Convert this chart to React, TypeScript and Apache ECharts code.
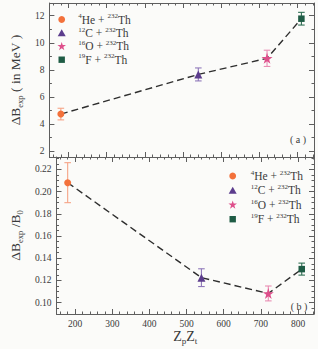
import React, { useEffect, useRef } from 'react';
import * as echarts from 'echarts';

// ---- data ----
const reactions = ['4He + 232Th', '12C + 232Th', '16O + 232Th', '19F + 232Th'];
const projMass = ['4', '12', '16', '19'];
const projSym = ['He', 'C', 'O', 'F'];
const targetMass = '232';
const targetSym = 'Th';
const zpzt = [180, 540, 720, 810];
const deltaB = [4.73, 7.66, 8.85, 11.78];
const deltaBErr = [0.43, 0.48, 0.6, 0.47];
const ratio = [0.208, 0.1225, 0.1083, 0.1302];
const ratioErr = [0.018, 0.008, 0.0067, 0.0054];
const xTicks = [200, 300, 400, 500, 600, 700, 800];
const topYTicks = [2, 4, 6, 8, 10, 12];
const topYMinor = [3, 5, 7, 9, 11];
const bottomYTicks = [0.1, 0.12, 0.14, 0.16, 0.18, 0.2, 0.22];

const X_MIN = 150;
const X_MAX = 843;
const TOP_Y = [1.557, 12.94];
const BOT_Y = [0.0898, 0.2311];

const xMinor: number[] = [];
for (let v = 160; v <= 840; v += 20) if (v % 100 !== 0) xMinor.push(v);
const bottomYMinor: number[] = [];
for (let k = 18; k <= 46; k++) if (k % 4 !== 0) bottomYMinor.push(+(k * 0.005).toFixed(3));

const STAR_PTS = [[50, 0], [61.2, 34.5], [97.6, 34.5], [68.2, 55.9], [79.4, 90.5], [50, 69.1], [20.6, 90.5], [31.8, 55.9], [2.4, 34.5], [38.8, 34.5]];
const STAR = 'path://M' + STAR_PTS.map((p) => p.join(',')).join(' L') + ' Z';
const colors = ['#f3713b', '#5c3d8d', '#de4f8b', '#1f5c45'];
const errColors = ['#f5a386', '#8f78ba', '#e98db3', '#2f6e53'];
const symbols = ['circle', 'triangle', STAR, 'rect'];
const symbolSizes = [7, 8, 11, 6.5];

const FONT = 'Liberation Serif';
const AXIS_COLOR = '#5e5e5e';
const TEXT_COLOR = '#3a3a3a';

function nameRich(size: number, subSize: number) {
  return {
    n: { fontFamily: FONT, fontSize: size, color: TEXT_COLOR, lineHeight: 18 },
    sub: { fontFamily: FONT, fontSize: subSize, color: TEXT_COLOR, verticalAlign: 'bottom', lineHeight: 9 },
  };
}

function xAxes(gridIndex: number, withLabels: boolean, name?: string) {
  const base = {
    type: 'value', gridIndex, min: X_MIN, max: X_MAX,
    splitLine: { show: false },
  };
  const line = { show: true, onZero: false, lineStyle: { color: AXIS_COLOR, width: 1 } };
  const tickStyle = { color: AXIS_COLOR, width: 1 };
  const mk = (pos: string, major: boolean, labels: boolean, nm?: string) => ({
    ...base,
    position: pos,
    axisLine: major ? line : { show: false, onZero: false },
    axisTick: { show: true, inside: true, length: major ? 5 : 2.5, customValues: major ? xTicks : xMinor, lineStyle: tickStyle },
    axisLabel: labels
      ? { show: true, customValues: xTicks, margin: 5, fontFamily: FONT, fontSize: 9.5, color: TEXT_COLOR }
      : { show: false },
    ...(nm
      ? { name: nm, nameLocation: 'middle', nameGap: 10, nameTextStyle: { rich: nameRich(14, 9) } }
      : {}),
  });
  return [
    mk('bottom', true, withLabels, name),
    mk('bottom', false, false),
    mk('top', true, false),
    mk('top', false, false),
  ];
}

function yAxes(gridIndex: number, range: number[], major: number[], minor: number[], fmt: (v: number) => string, name: string, gap: number) {
  const base = { type: 'value', gridIndex, min: range[0], max: range[1], splitLine: { show: false } };
  const line = { show: true, onZero: false, lineStyle: { color: AXIS_COLOR, width: 1 } };
  const tickStyle = { color: AXIS_COLOR, width: 1 };
  const mk = (pos: string, isMajor: boolean, labels: boolean, nm?: string) => ({
    ...base,
    position: pos,
    axisLine: isMajor ? line : { show: false, onZero: false },
    axisTick: { show: true, inside: true, length: isMajor ? 5 : 2.5, customValues: isMajor ? major : minor, lineStyle: tickStyle },
    axisLabel: labels
      ? { show: true, customValues: major, margin: 5, fontFamily: FONT, fontSize: 9.5, color: TEXT_COLOR, formatter: fmt }
      : { show: false },
    ...(nm
      ? { name: nm, nameLocation: 'middle', nameGap: gap, nameRotate: 90, nameTextStyle: { rich: nameRich(13.5, 8.5) } }
      : {}),
  });
  return [mk('left', true, true, name), mk('left', false, false), mk('right', true, false), mk('right', false, false)];
}

// legend drawn as graphic elements (marker + rich label)
function legendMarker(i: number, cx: number, cy: number) {
  const fill = colors[i];
  if (i === 0) return { type: 'circle', shape: { cx, cy, r: 3.4 }, style: { fill } };
  if (i === 1) return { type: 'polygon', shape: { points: [[cx - 4, cy + 3.4], [cx + 4, cy + 3.4], [cx, cy - 3.6]] }, style: { fill } };
  if (i === 2) {
    const s = 0.09;
    return { type: 'polygon', shape: { points: STAR_PTS.map((p) => [cx + (p[0] - 50) * s, cy + (p[1] - 48) * s]) }, style: { fill } };
  }
  return { type: 'rect', shape: { x: cx - 3.2, y: cy - 3.2, width: 6.4, height: 6.4 }, style: { fill } };
}

function legendGraphics(markerX: number, textX: number, y0: number, dy: number) {
  const out: any[] = [];
  reactions.forEach((r, i) => {
    const cy = y0 + i * dy;
    out.push(legendMarker(i, markerX, cy));
    out.push({
      type: 'text', x: textX, y: cy,
      style: {
        text: `{sup|${projMass[i]}}{n|${projSym[i]} + }{sup|${targetMass}}{n|${targetSym}}`,
        align: 'left', verticalAlign: 'middle',
        rich: {
          n: { fontFamily: FONT, fontSize: 11.5, fill: TEXT_COLOR, lineHeight: 13.5 },
          sup: { fontFamily: FONT, fontSize: 7, fill: TEXT_COLOR, verticalAlign: 'top', lineHeight: 3 },
        },
      },
    });
  });
  return out;
}

function panelSeries(xIdx: number, yIdx: number, vals: number[], errs: number[]) {
  const out: any[] = [];
  out.push({
    type: 'line', xAxisIndex: xIdx, yAxisIndex: yIdx, name: 'trend',
    data: zpzt.map((x, i) => [x, vals[i]]),
    showSymbol: false, symbol: 'none', silent: true, z: 2,
    lineStyle: { color: '#2e2e2e', width: 1.4, type: [7, 4] },
  });
  out.push({
    type: 'custom', xAxisIndex: xIdx, yAxisIndex: yIdx, name: 'err', silent: true, z: 3,
    data: zpzt.map((x, i) => [x, vals[i] - errs[i], vals[i] + errs[i]]),
    encode: { x: 0, y: [1, 2] },
    renderItem: (params: any, api: any) => {
      const x = api.value(0);
      const p1 = api.coord([x, api.value(1)]);
      const p2 = api.coord([x, api.value(2)]);
      const c = errColors[params.dataIndex];
      const w = 3.3;
      const st = { stroke: c, lineWidth: 1.1 };
      return {
        type: 'group',
        children: [
          { type: 'line', shape: { x1: p1[0], y1: p1[1], x2: p2[0], y2: p2[1] }, style: st },
          { type: 'line', shape: { x1: p1[0] - w, y1: p1[1], x2: p1[0] + w, y2: p1[1] }, style: st },
          { type: 'line', shape: { x1: p2[0] - w, y1: p2[1], x2: p2[0] + w, y2: p2[1] }, style: st },
        ],
      };
    },
  });
  reactions.forEach((r, i) => {
    out.push({
      type: 'scatter', xAxisIndex: xIdx, yAxisIndex: yIdx, name: r, z: 5,
      symbol: symbols[i], symbolSize: symbolSizes[i],
      itemStyle: { color: colors[i], opacity: 1 },
      data: [[zpzt[i], vals[i]]],
    });
  });
  return out;
}

export default function App() {
  const ref = useRef<HTMLDivElement>(null);
  useEffect(() => {
    if (!ref.current) return;
    const chart = echarts.init(ref.current, null, { renderer: 'svg' });
    const option: any = {
      animation: false,
      backgroundColor: '#fbfbf9',
      grid: [
        { left: 39, right: 4, top: 3, height: 154 },
        { left: 39, right: 4, top: 157, height: 157 },
      ],
      xAxis: [...xAxes(0, false), ...xAxes(1, true, '{n|Z}{sub|p}{n|Z}{sub|t}')],
      yAxis: [
        ...yAxes(0, TOP_Y, topYTicks, topYMinor, (v: number) => String(v), '{n|ΔB}{sub|exp}{n| ( in MeV )}', 20),
        ...yAxes(1, BOT_Y, bottomYTicks, bottomYMinor, (v: number) => v.toFixed(2), '{n|ΔB}{sub|exp}{n| /B}{sub|0}', 26),
      ],
      graphic: [
        ...legendGraphics(61.7, 78.3, 19.5, 13.4),
        ...legendGraphics(232.7, 250.7, 176, 14.4),
        { type: 'text', x: 298, y: 139, style: { text: '( a )', fontFamily: FONT, fontSize: 10, fill: TEXT_COLOR, align: 'center', verticalAlign: 'middle' } },
        { type: 'text', x: 299, y: 306, style: { text: '( b )', fontFamily: FONT, fontSize: 10, fill: TEXT_COLOR, align: 'center', verticalAlign: 'middle' } },
      ],
      series: [...panelSeries(0, 0, deltaB, deltaBErr), ...panelSeries(4, 4, ratio, ratioErr)],
    };
    chart.setOption(option);
    return () => chart.dispose();
  }, []);
  return <div ref={ref} style={{ position: 'fixed', left: 0, top: 0, width: 318, height: 349 }} />;
}
